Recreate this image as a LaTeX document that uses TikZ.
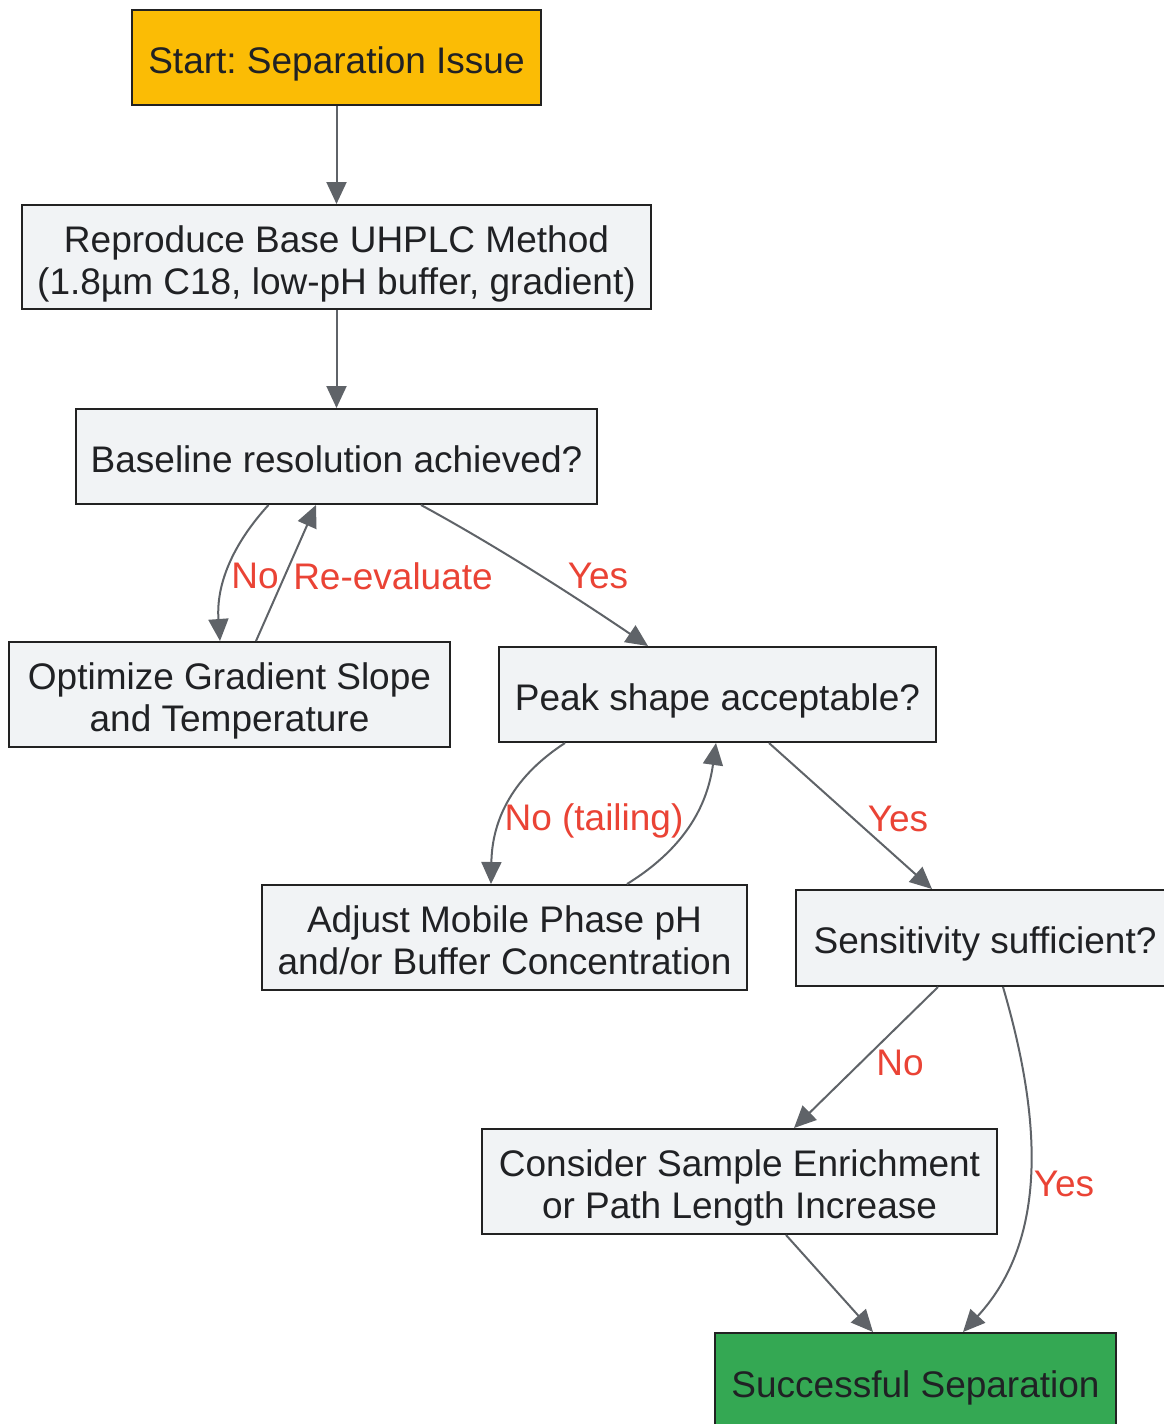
\documentclass[tikz,border=0pt]{standalone}
\usepackage{fontspec}
\setmainfont{Liberation Sans}
\usetikzlibrary{arrows.meta}
\definecolor{amber}{HTML}{FBBC05}
\definecolor{okgreen}{HTML}{34A853}
\definecolor{boxgray}{HTML}{F1F3F5}
\definecolor{boxline}{HTML}{222222}
\definecolor{edgegray}{HTML}{5F6368}
\definecolor{lblred}{HTML}{EA4335}
\definecolor{txt}{HTML}{202124}
\frenchspacing
\begin{document}
\begin{tikzpicture}[x=1pt,y=-1pt,
  box/.style={draw=boxline, line width=2pt, fill=boxgray, inner sep=0pt, align=center,
    text=txt, font=\fontsize{37}{42}\selectfont},
  onebox/.style={box, text height=39pt, text depth=8pt},
  twobox/.style={box, text height=82pt, text depth=8pt},
  edge/.style={draw=edgegray, line width=2pt, -{Triangle[length=22pt,width=20pt]}},
  lbl/.style={text=lblred, font=\fontsize{37}{42}\selectfont, inner sep=0pt}]
\useasboundingbox (0,0) rectangle (1163,1424);
\node[onebox, fill=amber, minimum width=409pt, minimum height=95pt] (start) at (336.5,57.5) {Start: Separation Issue};
\node[twobox, minimum width=629pt, minimum height=104pt] (repro) at (336.5,257) {Reproduce Base UHPLC Method\\(1.8µm C18, low-pH buffer, gradient)};
\node[onebox, minimum width=521pt, minimum height=95pt] (base) at (336.5,456.5) {Baseline resolution achieved?};
\node[twobox, minimum width=441pt, minimum height=105pt] (opt) at (229.5,694.5) {Optimize Gradient Slope\\and Temperature};
\node[onebox, minimum width=437pt, minimum height=95pt] (peak) at (717.5,694.5) {Peak shape acceptable?};
\node[twobox, minimum width=485pt, minimum height=105pt] (adj) at (504.5,937.5) {Adjust Mobile Phase pH\\and/or Buffer Concentration};
\node[onebox, minimum width=378pt, minimum height=96pt] (sens) at (985,938) {Sensitivity sufficient?};
\node[twobox, minimum width=515pt, minimum height=105pt] (cons) at (739.5,1181.5) {Consider Sample Enrichment\\or Path Length Increase};
\node[onebox, fill=okgreen, minimum width=401pt, minimum height=97pt] (succ) at (915.5,1381.5) {Successful Separation};

\draw[edge] (start.south) -- (repro.north);
\draw[edge] (repro.south) -- (base.north);
\draw[edge] ([xshift=-68pt]base.south) .. controls (232,545) and (216,585) .. ([xshift=-9.5pt]opt.north);
\draw[edge] ([xshift=26.5pt]opt.north) -- ([xshift=-20.5pt]base.south);
\draw[edge] ([xshift=84.5pt]base.south) .. controls (500,548) and (580,600) .. ([xshift=-69.5pt]peak.north);
\draw[edge] ([xshift=-152.5pt]peak.south) .. controls (508,780) and (492,825) .. ([xshift=-13.5pt]adj.north);
\draw[edge] ([xshift=122.5pt]adj.north) .. controls (690,845) and (708,800) .. ([xshift=-1.5pt]peak.south);
\draw[edge] ([xshift=51.5pt]peak.south) -- ([xshift=-53pt]sens.north);
\draw[edge] ([xshift=-47pt]sens.south) -- ([xshift=54.5pt]cons.north);
\draw[edge] ([xshift=18pt]sens.south) .. controls (1042,1120) and (1048,1240) .. ([xshift=47.5pt]succ.north);
\draw[edge] ([xshift=46.5pt]cons.south) -- ([xshift=-42.5pt]succ.north);

\node[lbl] (l1) at (255,576) {No};
\node[lbl] (l2) at (393,576) {Re-evaluate};
\node[lbl] (l3) at (598,576) {Yes};
\node[lbl] (l4) at (594,821) {No (tailing)};
\node[lbl] (l5) at (898,819) {Yes};
\node[lbl] (l6) at (900,1063) {No};
\node[lbl] (l7) at (1064,1184) {Yes};
\end{tikzpicture}
\end{document}
